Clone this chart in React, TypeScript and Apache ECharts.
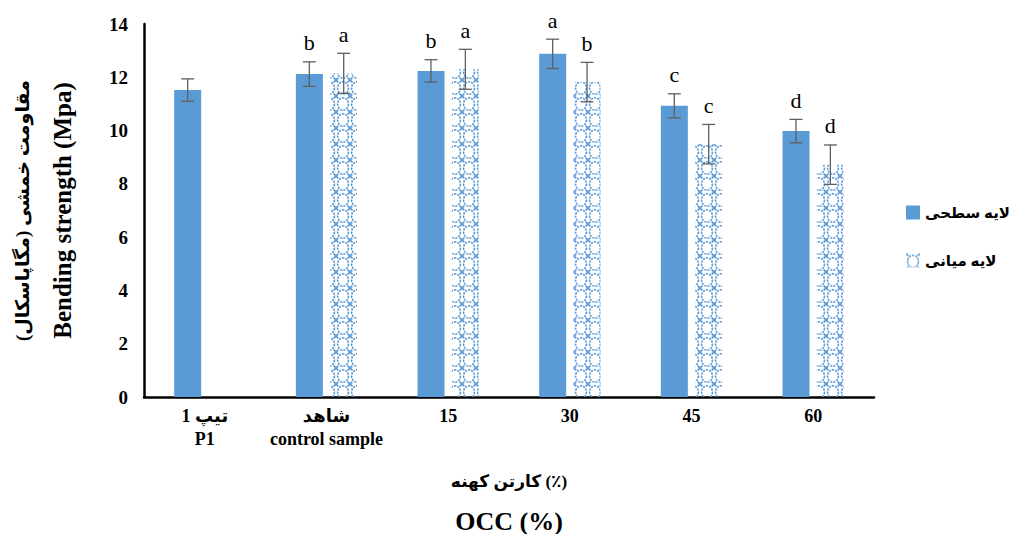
import React, { useEffect, useRef } from "react";
import * as echarts from "echarts";

const categories = ["تیپ 1\nP1", "شاهد\ncontrol sample", "15", "30", "45", "60"];
const surfaceValues = [11.52, 12.12, 12.24, 12.88, 10.93, 9.98];
const surfaceErrors = [0.42, 0.46, 0.42, 0.55, 0.45, 0.44];
const surfaceLetters = ["", "b", "b", "a", "c", "d"];
const middleValues: (number | null)[] = [null, 12.15, 12.3, 11.82, 9.49, 8.72];
const middleErrors: (number | null)[] = [null, 0.75, 0.75, 0.74, 0.74, 0.74];
const middleLetters = ["", "a", "a", "b", "c", "d"];
const seriesNames = ["لایه سطحی", "لایه میانی"];
const yTicks = [0, 2, 4, 6, 8, 10, 12, 14];

const BLUE = "#5B9BD5";
const SERIF = "'Liberation Serif', 'Times New Roman', 'DejaVu Serif', 'DejaVu Sans', serif";

const patternSvg =
  `<svg xmlns="http://www.w3.org/2000/svg" width="14" height="16" viewBox="0 0 14 16">` +
  `<ellipse cx="7" cy="8" rx="5.4" ry="6.2" fill="none" stroke="${BLUE}" stroke-width="1.6" stroke-dasharray="2.2 1"/>` +
  `<g stroke="${BLUE}" stroke-width="1.8">` +
  `<line x1="0" y1="0" x2="2.4" y2="2.4"/><line x1="14" y1="0" x2="11.6" y2="2.4"/>` +
  `<line x1="0" y1="16" x2="2.4" y2="13.6"/><line x1="14" y1="16" x2="11.6" y2="13.6"/>` +
  `</g></svg>`;
const patternUrl = "data:image/svg+xml;charset=utf-8," + encodeURIComponent(patternSvg);

export default function App() {
  const ref = useRef<HTMLDivElement>(null);
  useEffect(() => {
    if (!ref.current) return;
    const chart = echarts.init(ref.current, undefined, { renderer: "svg" });

    const errData = (vals: (number | null)[], errs: (number | null)[]) =>
      vals.map((v, i) => (v == null ? [i, null, null] : [i, v, errs[i]]));

    const makeErrRender = (offset: number) => (_params: any, api: any) => {
      const v = api.value(1);
      if (v == null || isNaN(v)) return null;
      const e = api.value(2);
      const base = api.coord([api.value(0), v]);
      const top = api.coord([api.value(0), v + e]);
      const bot = api.coord([api.value(0), v - e]);
      const x = base[0] + offset;
      const cap = 6.5;
      const style = { stroke: "#5f5f5f", lineWidth: 1.3 };
      return {
        type: "group",
        children: [
          { type: "line", shape: { x1: x, y1: top[1], x2: x, y2: bot[1] }, style },
          { type: "line", shape: { x1: x - cap, y1: top[1], x2: x + cap, y2: top[1] }, style },
          { type: "line", shape: { x1: x - cap, y1: bot[1], x2: x + cap, y2: bot[1] }, style },
        ],
      };
    };

    const letterRender = (offset: number, letters: string[]) => (params: any, api: any) => {
      const v = api.value(1);
      if (v == null || isNaN(v)) return null;
      const e = api.value(2);
      const top = api.coord([api.value(0), v + e]);
      const txt = letters[params.dataIndex];
      if (!txt) return null;
      return {
        type: "text",
        x: top[0] + offset,
        y: top[1] - 8,
        style: {
          text: txt,
          fill: "#000",
          font: `22px ${SERIF}`,
          align: "center",
          verticalAlign: "bottom",
        },
      };
    };

    chart.setOption({
      animation: false,
      grid: { left: 144, right: 136, top: 24, bottom: 137, containLabel: false, outerBoundsMode: "none" } as any,
      legend: {
        orient: "vertical",
        left: 901,
        top: 200,
        itemWidth: 14,
        itemHeight: 14,
        itemGap: 33,
        data: [
          { name: seriesNames[0], icon: "rect" },
          { name: seriesNames[1], icon: "rect" },
        ],
        textStyle: { fontFamily: SERIF, fontSize: 15, fontWeight: "bold", color: "#000" },
      },
      xAxis: {
        type: "category",
        data: categories,
        axisLine: { lineStyle: { color: "#000", width: 2.5 } },
        axisTick: { show: false },
        axisLabel: {
          interval: 0,
          margin: 7,
          fontFamily: SERIF,
          fontSize: 18,
          fontWeight: "bold",
          color: "#000",
          lineHeight: 23,
        },
        name: "{fa|کارتن کهنه (٪)}\n{en|OCC (%)}",
        nameLocation: "middle",
        nameGap: 64,
        nameTextStyle: {
          rich: {
            fa: { fontFamily: SERIF, fontSize: 17, fontWeight: "bold", color: "#000", lineHeight: 40 },
            en: { fontFamily: SERIF, fontSize: 26, fontWeight: "bold", color: "#000", lineHeight: 40 },
          },
        },
      },
      yAxis: {
        type: "value",
        min: 0,
        max: 14,
        interval: 2,
        splitLine: { show: false },
        axisLine: { show: true, lineStyle: { color: "#000", width: 2.5 } },
        axisTick: { show: false },
        axisLabel: {
          margin: 16,
          fontFamily: SERIF,
          fontSize: 19,
          fontWeight: "bold",
          color: "#000",
          formatter: (v: number) => (yTicks.includes(v) ? String(v) : ""),
        },
        name: "{fa|مقاومت خمشی (مگاپاسکال)}\n{en|Bending strength (Mpa)}",
        nameLocation: "middle",
        nameGap: 62,
        nameRotate: 90,
        nameTextStyle: {
          rich: {
            fa: { fontFamily: SERIF, fontSize: 19, fontWeight: "bold", color: "#000", lineHeight: 40 },
            en: { fontFamily: SERIF, fontSize: 25, fontWeight: "bold", color: "#000", lineHeight: 40 },
          },
        },
      },
      series: [
        {
          name: seriesNames[0],
          type: "bar",
          data: surfaceValues,
          barWidth: 27,
          barGap: "27%",
          itemStyle: { color: BLUE },
        },
        {
          name: seriesNames[1],
          type: "bar",
          data: middleValues.map((v) => (v == null ? "-" : v)),
          barWidth: 27,
          itemStyle: { color: { image: patternUrl, repeat: "repeat" } as any },
        },
        {
          type: "custom",
          silent: true,
          z: 5,
          renderItem: makeErrRender(-17.2),
          data: errData(surfaceValues, surfaceErrors),
        },
        {
          type: "custom",
          silent: true,
          z: 5,
          renderItem: makeErrRender(17.2),
          data: errData(middleValues, middleErrors),
        },
        {
          type: "custom",
          silent: true,
          z: 6,
          renderItem: letterRender(-17.2, surfaceLetters),
          data: errData(surfaceValues, surfaceErrors),
        },
        {
          type: "custom",
          silent: true,
          z: 6,
          renderItem: letterRender(17.2, middleLetters),
          data: errData(middleValues, middleErrors),
        },
      ],
    });
    return () => chart.dispose();
  }, []);
  return <div ref={ref} style={{ width: 1010, height: 534, position: "absolute", left: 0, top: 0 }} />;
}
